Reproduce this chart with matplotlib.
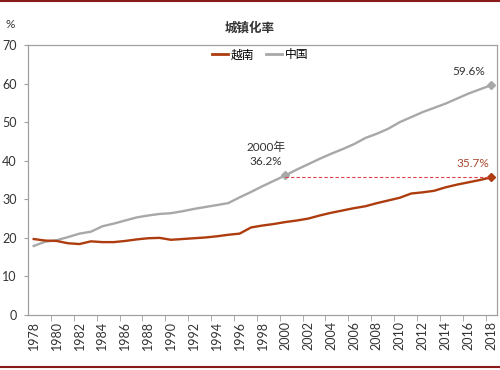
import matplotlib
matplotlib.use("Agg")
import matplotlib.pyplot as plt
from matplotlib.lines import Line2D

plt.rcParams['font.family'] = ['Lato', 'Noto Sans CJK SC', 'DejaVu Sans']

years = list(range(1978, 2019))
vietnam = [19.7, 19.3, 19.2, 18.6, 18.4, 19.1, 18.9, 18.9, 19.2, 19.6, 19.9, 20.0,
           19.5, 19.7, 19.9, 20.1, 20.4, 20.8, 21.1, 22.7, 23.2, 23.6, 24.1, 24.5,
           25.0, 25.8, 26.5, 27.1, 27.7, 28.2, 29.0, 29.7, 30.4, 31.5, 31.8, 32.2,
           33.1, 33.8, 34.4, 35.0, 35.7]
china = [17.9, 19.0, 19.4, 20.2, 21.1, 21.6, 23.0, 23.7, 24.5, 25.3, 25.8, 26.2,
         26.4, 26.9, 27.5, 28.0, 28.5, 29.0, 30.5, 31.9, 33.4, 34.8, 36.2, 37.7,
         39.1, 40.5, 41.8, 43.0, 44.3, 45.9, 47.0, 48.3, 50.0, 51.3, 52.6, 53.7,
         54.8, 56.1, 57.4, 58.5, 59.6]
series_names = ['越南', '中国']
title = '城镇化率'
yticks = [0, 10, 20, 30, 40, 50, 60, 70]

vn_color = '#AD3C0E'
cn_color = '#A8A8A8'
dash_color = '#E0404A'
vn_label_color = '#A84A30'
text_color = '#333333'

fig = plt.figure(figsize=(5, 3.7), dpi=100)
ax = fig.add_axes([0.056, 0.1486, 0.938, 0.7298])

ax.plot(years, china, color=cn_color, lw=1.7, solid_joinstyle='round')
ax.plot(years, vietnam, color=vn_color, lw=1.7, solid_joinstyle='round')

i2000 = years.index(2000)
ax.plot([years[i2000]], [china[i2000]], marker='D', ms=4, color=cn_color)
ax.plot([years[-1]], [china[-1]], marker='D', ms=4, color=cn_color)
ax.plot([years[-1]], [vietnam[-1]], marker='D', ms=4, color=vn_color)
ax.plot([years[i2000], years[-1]], [vietnam[-1], vietnam[-1]], color=dash_color,
        lw=0.8, ls=(0, (3, 2)))

ax.annotate(f'{years[i2000]}年\n{china[i2000]:.1f}%', (years[i2000], china[i2000]),
            xytext=(-14, 6), textcoords='offset points', ha='center', va='bottom',
            fontsize=8.5, color=text_color, linespacing=1.3)
ax.annotate(f'{china[-1]:.1f}%', (years[-1], china[-1]), xytext=(-16, 6),
            textcoords='offset points', ha='center', va='bottom', fontsize=8.5,
            color=text_color)
ax.annotate(f'{vietnam[-1]:.1f}%', (years[-1], vietnam[-1]), xytext=(-13, 6),
            textcoords='offset points', ha='center', va='bottom', fontsize=8.5,
            color=vn_label_color)

ax.set_xlim(1977.5, 2018.5)
ax.set_ylim(0, 70)
ax.set_yticks(yticks)
ax.set_xticks(years[::2])
ax.set_xticks([y + 1.5 for y in years[:-1:2]], minor=True)
ax.tick_params(axis='x', which='major', length=0, rotation=90, labelsize=9,
               pad=4, labelcolor=text_color)
ax.tick_params(axis='x', which='minor', length=4, color='#A0A0A0')
ax.tick_params(axis='y', length=3, color='#A0A0A0', labelsize=9, pad=5,
               labelcolor=text_color)
for s in ax.spines.values():
    s.set_color('#A0A0A0')
    s.set_linewidth(0.9)

handles = [Line2D([], [], color=vn_color, lw=2), Line2D([], [], color=cn_color, lw=2)]
fig.legend(handles, series_names, loc='center', bbox_to_anchor=(0.52, 0.852),
           ncol=2, frameon=False, fontsize=8.5, handlelength=1.4, handletextpad=0.2,
           columnspacing=1.0)

fig.text(0.5, 0.925, title, ha='center', va='center', fontsize=9,
         fontweight='bold', color=text_color)
fig.text(0.012, 0.935, '%', ha='left', va='center', fontsize=8.5, color=text_color)

fig.add_artist(Line2D([0, 1], [0.997, 0.997], color='#8B1A1A', lw=1.5,
                      transform=fig.transFigure))
fig.add_artist(Line2D([0, 1], [0.009, 0.009], color='#8B1A1A', lw=1.5,
                      transform=fig.transFigure))

fig.savefig('out.png', dpi=100)
